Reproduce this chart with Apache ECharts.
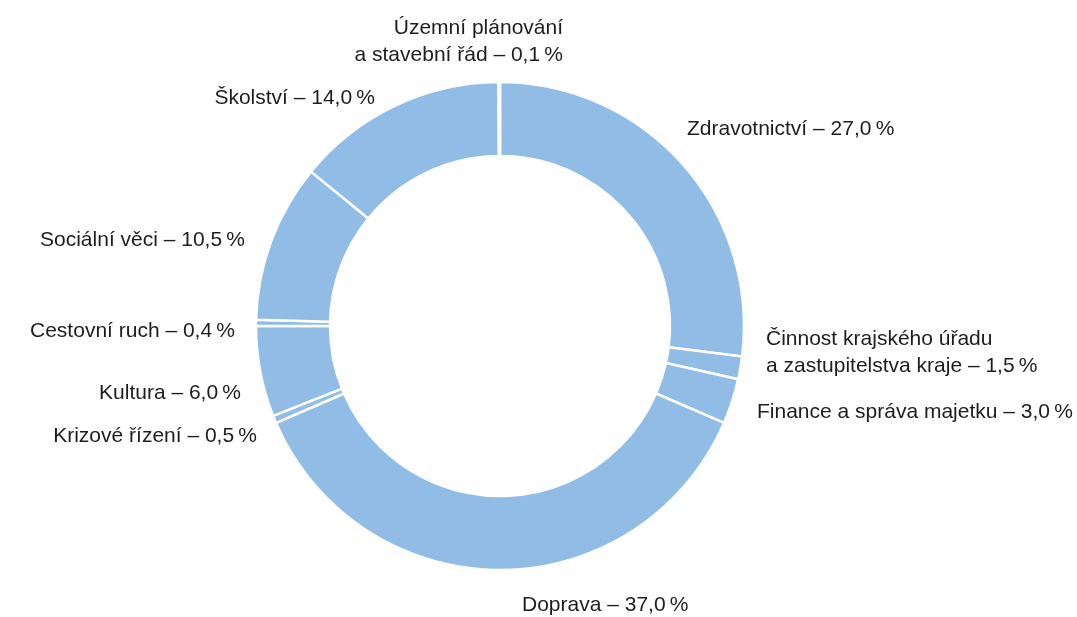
<!DOCTYPE html>
<html>
<head>
<meta charset="utf-8">
<style>
  html, body { margin: 0; padding: 0; background: #fff; }
  #main { width: 1077px; height: 617px; }
</style>
<script src="https://cdn.jsdelivr.net/npm/echarts@6/dist/echarts.min.js"></script>
</head>
<body>
<div id="main"></div>
<script>
// podíly výdajů (v %), po směru hodin od vrcholu
var categories = [
  'Zdravotnictví',
  'Činnost krajského úřadu\na zastupitelstva kraje',
  'Finance a správa majetku',
  'Doprava',
  'Krizové řízení',
  'Kultura',
  'Cestovní ruch',
  'Sociální věci',
  'Školství',
  'Územní plánování\na stavební řád'
];
var values = [27.0, 1.5, 3.0, 37.0, 0.5, 6.0, 0.4, 10.5, 14.0, 0.1];

// umístění popisků [x, y, zarovnání]
var labelPos = [
  [687, 129, 'left'],
  [766, 353, 'left'],
  [757, 412, 'left'],
  [522, 605, 'left'],
  [257, 436, 'right'],
  [241, 393, 'right'],
  [235, 331, 'right'],
  [245, 240, 'right'],
  [375, 98, 'right'],
  [563, 42, 'right']
];

function fmt(v) {
  return v.toFixed(1).replace('.', ',') + '\u2009%';
}

var myChart = echarts.init(document.getElementById('main'));
myChart.setOption({
  animation: false,
  series: [{
    type: 'pie',
    center: [500, 326],
    radius: [170, 244],
    startAngle: 90,
    clockwise: true,
    avoidLabelOverlap: false,
    itemStyle: {
      color: '#90bce6',
      borderColor: '#ffffff',
      borderWidth: 2.5
    },
    label: {
      show: true,
      color: '#1d1d1b',
      fontFamily: 'Liberation Sans, Arial, sans-serif',
      fontSize: 21,
      lineHeight: 27,
      formatter: function (p) {
        return p.name + ' – ' + fmt(p.value);
      }
    },
    labelLine: { show: false },
    labelLayout: function (params) {
      var p = labelPos[params.dataIndex];
      return { x: p[0], y: p[1], align: p[2], verticalAlign: 'middle' };
    },
    emphasis: { disabled: true },
    data: categories.map(function (c, i) {
      return { name: c, value: values[i] };
    })
  }]
});
</script>
</body>
</html>
